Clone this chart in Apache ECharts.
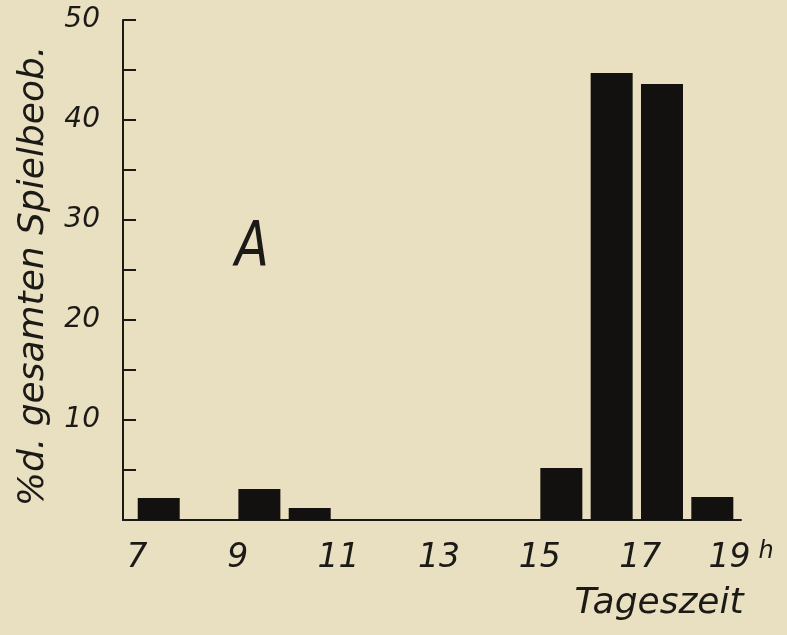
<!DOCTYPE html>
<html>
<head>
<meta charset="utf-8">
<script src="https://cdn.jsdelivr.net/npm/echarts@6/dist/echarts.min.js"></script>
<style>
  html, body { margin: 0; padding: 0; background: #e9e0c1; }
  #main { width: 787px; height: 635px; }
</style>
</head>
<body>
<div id="main"></div>
<script>
// hour at which each bar starts, and its share of all play observations (%)
var startHours = [7, 9, 10, 15, 16, 17, 18];
var shares = [2.2, 3.1, 1.2, 5.2, 44.7, 43.6, 2.3];
var hourTicks = [7, 9, 11, 13, 15, 17, 19];
var yTicks = [10, 20, 30, 40, 50];

var ink = '#1c1a17';
var font = 'DejaVu Sans';

var chart = echarts.init(document.getElementById('main'), null, { renderer: 'canvas' });

var barData = startHours.map(function (h, i) {
  return [h + 0.43, shares[i]];
});

var option = {
  backgroundColor: '#e9e0c1',
  animation: false,
  grid: { left: 123, right: 46, top: 20, bottom: 115 },
  xAxis: {
    type: 'value',
    min: 6.72,
    max: 19,
    axisLine: { lineStyle: { color: ink, width: 2 } },
    axisTick: { show: false },
    splitLine: { show: false },
    axisLabel: {
      customValues: hourTicks,
      margin: 20,
      color: ink,
      fontFamily: font,
      fontStyle: 'italic',
      fontSize: 33,
      lineHeight: 36,
      formatter: function (v) {
        return v === 19 ? '19{h|h}' : String(v);
      },
      rich: {
        h: { fontSize: 24, fontStyle: 'italic', fontFamily: font, color: ink, lineHeight: 36, verticalAlign: 'top', padding: [0, 0, 10, 8] }
      }
    }
  },
  yAxis: {
    type: 'value',
    min: 0,
    max: 50,
    interval: 5,
    axisLine: { show: true, lineStyle: { color: ink, width: 2 } },
    axisTick: { show: true, inside: true, length: 13, lineStyle: { color: ink, width: 2 } },
    splitLine: { show: false },
    axisLabel: {
      margin: 23,
      color: ink,
      fontFamily: font,
      fontStyle: 'italic',
      fontSize: 28,
      formatter: function (v) {
        return yTicks.indexOf(v) >= 0 ? String(v) : '';
      }
    }
  },
  graphic: [
    {
      type: 'text',
      x: 34, y: 276,
      rotation: Math.PI / 2,
      style: {
        text: '%d. gesamten Spielbeob.',
        font: 'italic 36px "DejaVu Sans"',
        fill: ink,
        textAlign: 'center',
        textVerticalAlign: 'middle'
      }
    },
    {
      type: 'text',
      x: 659, y: 604,
      style: {
        text: 'Tageszeit',
        font: 'italic 36px "DejaVu Sans"',
        fill: ink,
        textAlign: 'center',
        textVerticalAlign: 'middle'
      }
    },
    {
      type: 'text',
      x: 252, y: 250,
      scaleX: 0.8,
      style: {
        text: 'A',
        font: 'italic 62px "DejaVu Sans"',
        fill: ink,
        textAlign: 'center',
        textVerticalAlign: 'middle'
      }
    }
  ],
  series: [{
    type: 'bar',
    data: barData,
    barWidth: 42,
    itemStyle: { color: '#121110' }
  }]
};

chart.setOption(option);
</script>
</body>
</html>
